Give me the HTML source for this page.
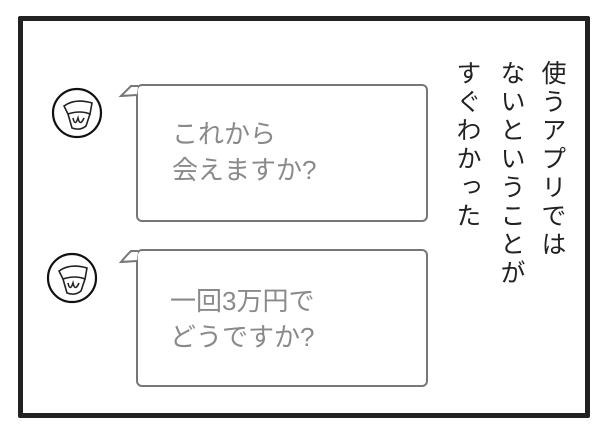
<!DOCTYPE html>
<html><head><meta charset="utf-8"><style>
body{margin:0;width:608px;height:435px;background:#fff;overflow:hidden;position:relative;font-family:"Liberation Sans","Noto Sans CJK JP",sans-serif}
.frame{position:absolute;left:18px;top:16px;width:562px;height:392px;border:5px solid #222;border-radius:2px}
.bub{position:absolute;border:2px solid #777;border-radius:6px;background:#fff}
.t{position:absolute;color:#8a8a8a;font-size:26px;line-height:36px;white-space:nowrap}
.v{position:absolute;writing-mode:vertical-rl;font-size:25px;line-height:30px;color:#222;letter-spacing:3.5px}
</style></head><body>
<div class="frame"></div>
<div class="bub" style="left:136px;top:84px;width:288px;height:134px"></div>
<div class="bub" style="left:136px;top:249px;width:288px;height:134px"></div>
<svg width="608" height="435" style="position:absolute;left:0;top:0">
<g fill="#fff" stroke="#777" stroke-width="2">
<path d="M138 86 L131 86 Q125 92 121 96 L137 95"/>
<path d="M138 251 L131 251 Q125 257 121 262 L137 261"/>
</g>
<g fill="#fff" stroke="#111" stroke-width="2.2">
<circle cx="77" cy="113" r="24"/>
<circle cx="72" cy="278" r="24"/>
</g>
<g fill="none" stroke="#222" stroke-width="1.6">
<path d="M64 106 Q75 98 92 103 L90 114 Q80 110 68 114 Z"/>
<path d="M68 114 L72 128 Q80 131 86 126 L90 114"/>
<path d="M73 118 Q75 127 78 118 Q80 127 84 118"/>
<path d="M59 271 Q70 263 87 268 L85 279 Q75 275 63 279 Z"/>
<path d="M63 279 L67 293 Q75 296 81 291 L85 279"/>
<path d="M68 283 Q70 292 73 283 Q75 292 79 283"/>
</g>
</svg>
<div class="t" style="left:172px;top:116px">これから<br>会えますか?</div>
<div class="t" style="left:170px;top:283px">一回3万円で<br>どうですか?</div>
<div class="v" style="left:537px;top:60px">使うアプリでは</div>
<div class="v" style="left:496px;top:60px">ないということが</div>
<div class="v" style="left:452px;top:60px">すぐわかった</div>
</body></html>
